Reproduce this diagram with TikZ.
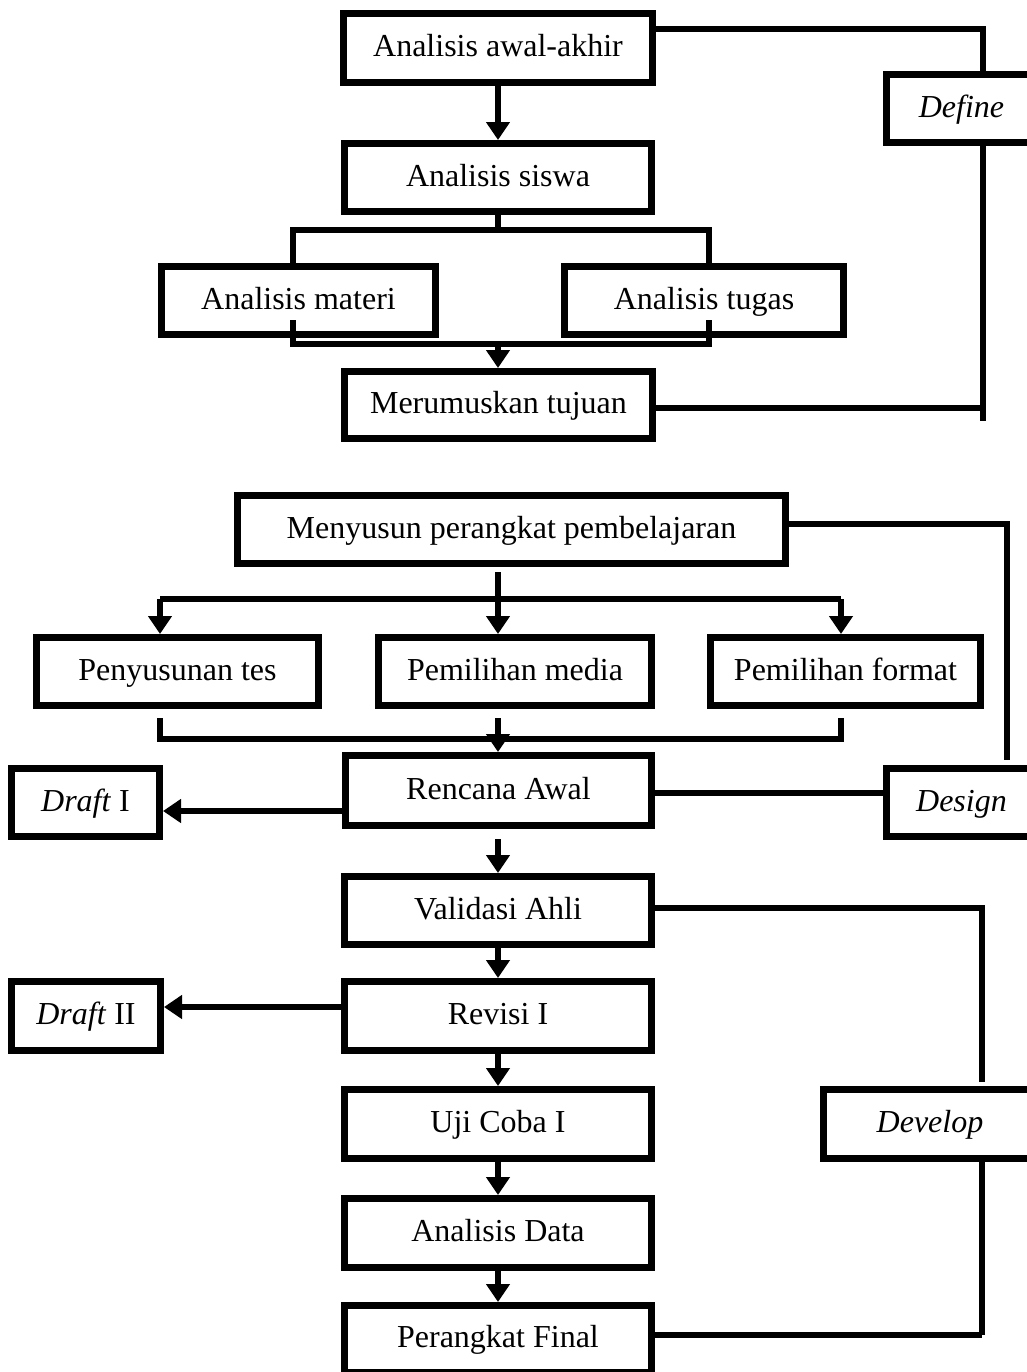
\documentclass[tikz,border=0pt]{standalone}
\usepackage{fontspec}
\setmainfont{Liberation Serif}
\usetikzlibrary{arrows.meta,calc}
\tikzset{
  box/.style={draw, line width=3.3pt, inner sep=0pt, align=center,
    text height=12pt, text depth=3.5pt,
    font=\fontsize{16pt}{19pt}\selectfont},
  conn/.style={line width=3pt},
  arr/.style={conn, -{Triangle[width=11.5pt,length=9pt]}},
}
\begin{document}
\begin{tikzpicture}[x=0.5pt,y=-0.5pt]
\useasboundingbox (0,0) rectangle (1027,1372);
\clip (0,0) rectangle (1027,1372);
% ---------- nodes ----------
\node[box, minimum width=154.7pt, minimum height=34.7pt] (A1) at (498,48) {Analisis awal-akhir};
\node[box, minimum width=153.7pt, minimum height=34.2pt] (Siswa) at (498,177.5) {Analisis siswa};
\node[box, minimum width=137.2pt, minimum height=34.2pt] (Materi) at (298.5,300.5) {Analisis materi};
\node[box, minimum width=139.7pt, minimum height=34.2pt] (Tugas) at (704,300.5) {Analisis tugas};
\node[box, minimum width=154.2pt, minimum height=33.7pt] (Merumus) at (498.5,405) {Merumuskan tujuan};
\node[box, minimum width=75.2pt, minimum height=34.2pt] (Define) at (961.5,108.5) {\textit{Define}};
\node[box, minimum width=274.2pt, minimum height=34.2pt] (Menyusun) at (511.5,529.5) {Menyusun perangkat pembelajaran};
\node[box, minimum width=141.2pt, minimum height=34.2pt] (Penyusunan) at (177.5,671.5) {Penyusunan tes};
\node[box, minimum width=136.7pt, minimum height=34.2pt] (Media) at (515,671.5) {Pemilihan media};
\node[box, minimum width=135.2pt, minimum height=34.2pt] (Format) at (845.5,671.5) {Pemilihan format};
\node[box, minimum width=153.2pt, minimum height=35.2pt] (Rencana) at (498.5,790.5) {Rencana Awal};
\node[box, minimum width=74.2pt, minimum height=34.2pt] (DraftI) at (85.5,802.5) {\textit{Draft} I};
\node[box, minimum width=75.2pt, minimum height=34.2pt] (Design) at (961.5,802.5) {\textit{Design}};
\node[box, minimum width=153.7pt, minimum height=34.2pt] (Validasi) at (498,910.5) {Validasi Ahli};
\node[box, minimum width=153.7pt, minimum height=34.7pt] (Revisi) at (498,1016) {Revisi I};
\node[box, minimum width=74.7pt, minimum height=34.7pt] (DraftII) at (86,1016) {\textit{Draft} II};
\node[box, minimum width=153.7pt, minimum height=34.7pt] (Uji) at (498,1124) {Uji Coba I};
\node[box, minimum width=106.7pt, minimum height=34.7pt] (Develop) at (930,1124) {\textit{Develop}};
\node[box, minimum width=153.7pt, minimum height=34.7pt] (Data) at (498,1233) {Analisis Data};
\node[box, minimum width=153.7pt, minimum height=33.7pt] (Final) at (498,1339) {Perangkat Final};
% ---------- helper coordinates ----------
\coordinate (cx) at (498,0);
\coordinate (dA) at (983,29);
\coordinate (dB) at (983,421);
\coordinate (bl) at (293,230);
\coordinate (br) at (709,230);
\coordinate (jl1) at (293,320);
\coordinate (jl) at (293,344);
\coordinate (jr) at (709,344);
\coordinate (jr1) at (709,320);
\coordinate (dC) at (1007,524);
\coordinate (pl) at (160,599);
\coordinate (pr) at (841,599);
\coordinate (ql1) at (160,718);
\coordinate (ql) at (160,739);
\coordinate (qr) at (841,739);
\coordinate (qr1) at (841,718);
\coordinate (yD1) at (0,811);
\coordinate (yR) at (0,793);
\coordinate (dD) at (982,908);
\coordinate (dE) at (982,1335);
\coordinate (yD2) at (0,1007);
% ---------- Define ----------
\draw[arr] (A1.south) -- (Siswa.north);
\draw[conn] (A1.east |- dA) -- (dA) -- (Define.north -| dA);
\draw[conn] (Define.south -| dB) -- (dB);
\draw[conn] (Merumus.east |- 0,408) -- (dB |- 0,408);
\draw[conn] (Siswa.south) -- (Siswa.south |- bl);
\draw[conn] (Materi.north -| bl) -- (bl) -- (br) -- (Tugas.north -| br);
\draw[conn] (jl1) -- (jl) -- (jr) -- (jr1);
\draw[arr] (jl -| cx) -- (Merumus.north -| cx);
% ---------- Design ----------
\draw[conn, shorten >=2.5pt] (Menyusun.east |- dC) -- (dC) -- (Design.north -| dC);
\draw[arr, shorten <=2.5pt] (Menyusun.south -| cx) -- (Media.north -| cx);
\draw[conn] (pl) -- (pr);
\draw[arr] (pl) -- (Penyusunan.north -| pl);
\draw[arr] (pr) -- (Format.north -| pr);
\draw[conn] (ql1) -- (ql) -- (qr) -- (qr1);
\draw[arr, shorten <=4.5pt] (Media.south -| cx) -- (Rencana.north -| cx);
\draw[arr] (Rencana.west |- yD1) -- (DraftI.east |- yD1);
\draw[conn] (Rencana.east |- yR) -- (Design.west |- yR);
% ---------- Develop ----------
\draw[arr, shorten <=5pt] (Rencana.south -| cx) -- (Validasi.north -| cx);
\draw[conn, shorten >=2pt] (Validasi.east |- dD) -- (dD) -- (Develop.north -| dD);
\draw[conn] (Develop.south -| dE) -- (dE);
\draw[conn] (Final.east |- dE) -- (dE);
\draw[arr] (Validasi.south) -- (Revisi.north);
\draw[arr] (Revisi.west |- yD2) -- (DraftII.east |- yD2);
\draw[arr] (Revisi.south) -- (Uji.north);
\draw[arr] (Uji.south) -- (Data.north);
\draw[arr] (Data.south) -- (Final.north);
\end{tikzpicture}
\end{document}
